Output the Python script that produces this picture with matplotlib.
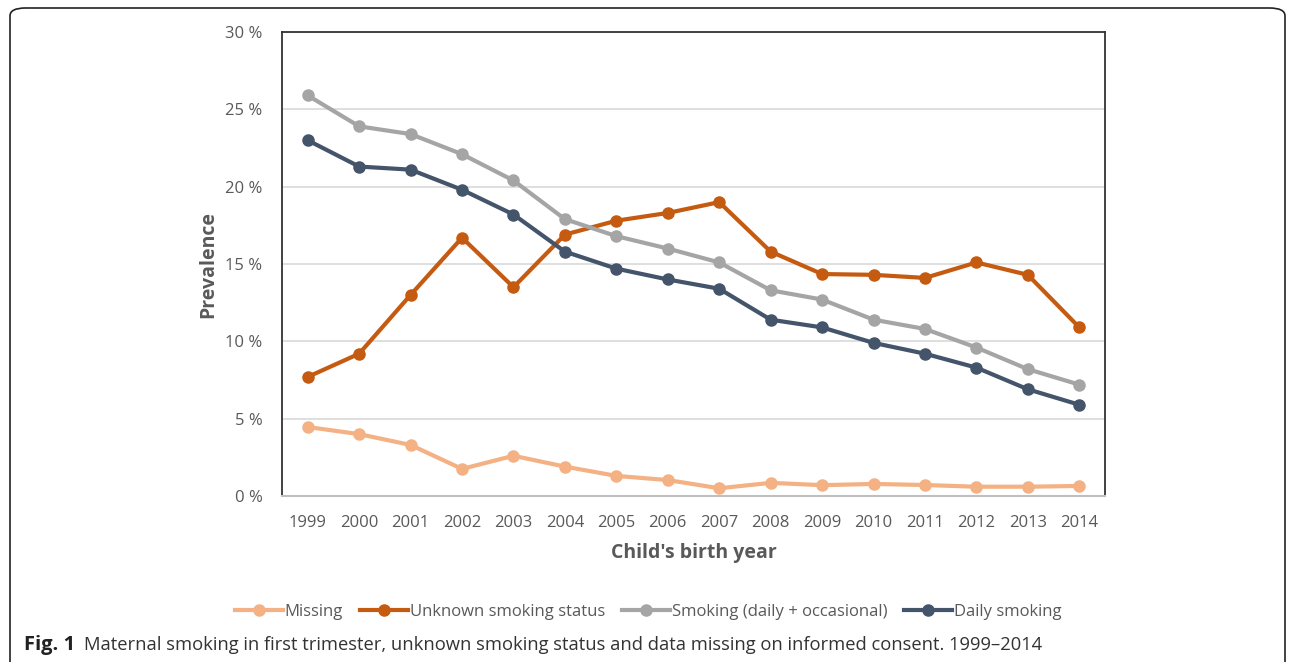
import matplotlib.pyplot as plt
from matplotlib.patches import FancyBboxPatch
from matplotlib.ticker import FuncFormatter

years = list(range(1999, 2015))
missing = [4.46, 4.0, 3.3, 1.75, 2.6, 1.9, 1.3, 1.03, 0.5, 0.85, 0.7, 0.78, 0.71, 0.6, 0.6, 0.65]
unknown = [7.7, 9.2, 13.0, 16.7, 13.5, 16.9, 17.8, 18.3, 19.0, 15.8, 14.35, 14.3, 14.1, 15.1, 14.3, 10.9]
smoking = [25.9, 23.9, 23.4, 22.1, 20.4, 17.9, 16.8, 16.0, 15.1, 13.3, 12.7, 11.4, 10.8, 9.6, 8.2, 7.2]
daily = [23.0, 21.3, 21.1, 19.8, 18.2, 15.8, 14.7, 14.0, 13.4, 11.4, 10.9, 9.9, 9.2, 8.3, 6.9, 5.9]

series = [
    ("Missing", missing, "#F4B183"),
    ("Unknown smoking status", unknown, "#C55A11"),
    ("Smoking (daily + occasional)", smoking, "#A5A5A5"),
    ("Daily smoking", daily, "#44546A"),
]

plt.rcParams['font.family'] = ['Open Sans', 'DejaVu Sans']

fig = plt.figure(figsize=(12.9, 6.62), dpi=100)

# rounded frame around the figure
frame = FancyBboxPatch((10 / 1290, -0.05), 1275 / 1290, 0.05 + 1 - 8 / 662,
                       boxstyle="round,pad=0,rounding_size=0.012",
                       transform=fig.transFigure, fill=False,
                       edgecolor="#222222", linewidth=1.2)
fig.patches.append(frame)

ax = fig.add_axes([282 / 1290, (662 - 496) / 662, (1105 - 282) / 1290, (496 - 32) / 662])

for name, vals, col in series:
    ax.plot(years, vals, color=col, linewidth=3, marker="o", markersize=8,
            label=name, zorder=3)

ax.set_xlim(1998.5, 2014.5)
ax.set_ylim(0, 30)
ax.set_xticks(years)
ax.set_yticks(range(0, 31, 5))
ax.yaxis.set_major_formatter(FuncFormatter(lambda v, p: f"{v:.0f} %"))
ax.tick_params(length=0, labelsize=12, colors="#595959")
ax.tick_params(axis="x", pad=13.5)
ax.tick_params(axis="y", pad=14)
ax.grid(axis="y", color="#D9D9D9", linewidth=1.2, zorder=0)

for s in ["left", "top", "right"]:
    ax.spines[s].set_color("#333333")
    ax.spines[s].set_linewidth(1.3)
ax.spines["bottom"].set_color("#BFBFBF")
ax.spines["bottom"].set_linewidth(1.5)

ax.set_xlabel("Child's birth year", fontsize=14, fontweight="bold", color="#595959", labelpad=9)
ax.set_ylabel("Prevalence", fontsize=14, fontweight="bold", color="#595959", labelpad=5)

ax.legend(loc="center", bbox_to_anchor=(648 / 1290, 1 - 612 / 662),
          bbox_transform=fig.transFigure, ncol=4, frameon=False,
          fontsize=12, labelcolor="#595959", handlelength=2.9,
          handletextpad=0.1, columnspacing=1.0)

fig.text(24 / 1290, 1 - 645 / 662, "Fig. 1", fontsize=14.5, fontweight="bold",
         va="center", color="#222222")
fig.text(84 / 1290, 1 - 645 / 662,
         "Maternal smoking in first trimester, unknown smoking status and data missing on informed consent. 1999\u20132014",
         fontsize=13.2, va="center", color="#333333")

fig.savefig("out.png", dpi=100)
